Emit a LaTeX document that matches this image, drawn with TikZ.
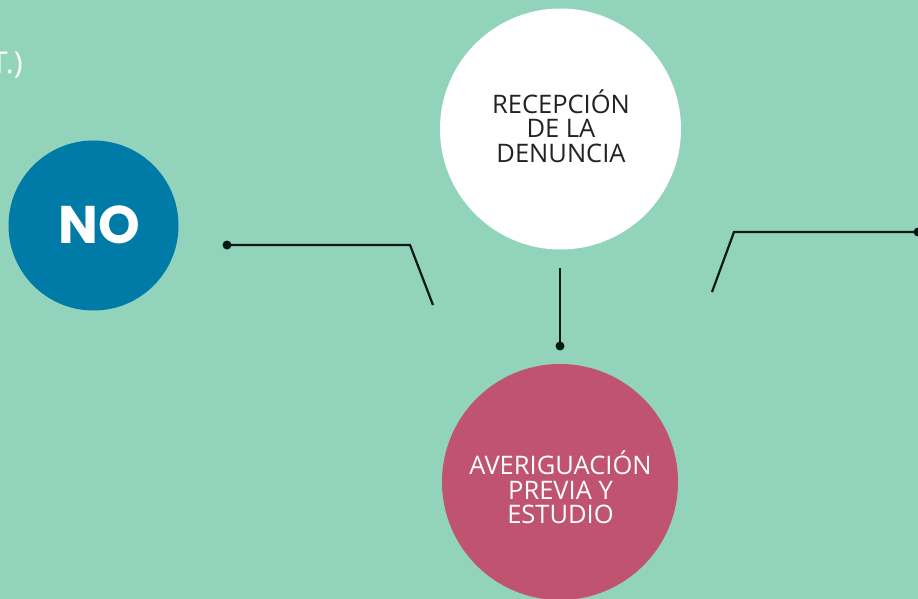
\documentclass[tikz,border=0pt]{standalone}
\usepackage{fontspec}
\setmainfont{Open Sans}
\newfontfamily\nofont{Poppins}
\definecolor{bgc}{RGB}{146,211,187}
\definecolor{blueno}{RGB}{0,123,167}
\definecolor{pinkc}{RGB}{192,83,111}
\definecolor{darkt}{RGB}{34,34,34}
\definecolor{linec}{RGB}{10,25,20}
\begin{document}
\begin{tikzpicture}[x=1pt,y=-1pt,
  bubble/.style={circle,inner sep=0pt,minimum size=#1},
  bubtext/.style={align=center,font=\fontsize{25.5}{24.5}\selectfont,inner sep=0pt},
  conn/.style={draw=linec,line width=2.2pt},
  dotc/.style={fill=linec}]
\useasboundingbox (0,0) rectangle (918,599);
\fill[bgc] (0,0) rectangle (918,599);
% circles
\node[bubble=241pt,fill=white] (rec) at (560.5,129) {};
\node[bubble=170pt,fill=blueno] (no) at (93.5,225.5) {};
\node[bubble=236pt,fill=pinkc] (ave) at (560,482) {};
% texts
\node[bubtext,text=darkt] (rect) at (561,126) {RECEPCIÓN\\DE LA\\DENUNCIA};
\node[bubtext,text=white] (avet) at (560.5,487.5) {AVERIGUACIÓN\\PREVIA Y\\ESTUDIO};
\node[text=white,font=\nofont\bfseries\fontsize{53}{53}\selectfont,inner sep=0pt] (not) at (99.5,225) {NO};
\node[text=white,font=\fontsize{30}{30}\selectfont,anchor=west,inner sep=0pt] (cont) at (-9,65) {T.)};
% connectors
\coordinate (l1) at (227,245);
\coordinate (l2) at (410,245);
\coordinate (l3) at (433,305);
\coordinate (r1) at (712,292);
\coordinate (r2) at (734,232);
\coordinate (r3) at (918,232);
\coordinate (v1) at (560,268);
\coordinate (v2) at (560,346);
\draw[conn] (l1) -- (l2) -- (l3);
\draw[conn] (r1) -- (r2) -- (r3);
\draw[conn] (v1) -- (v2);
\fill[dotc] (l1) circle (4.5pt);
\fill[dotc] (r3) circle (4.5pt);
\fill[dotc] (v2) circle (4.5pt);
\end{tikzpicture}
\end{document}
